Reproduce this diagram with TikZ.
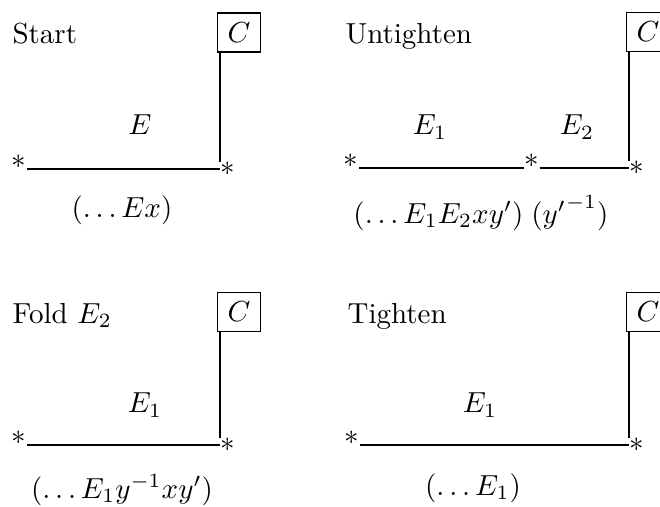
\documentclass[tikz,border=0pt]{standalone}
\usepackage{amsmath}
\usetikzlibrary{calc}

\begin{document}
\begin{tikzpicture}[x=0.345pt, y=-0.345pt,
    cbox/.style={draw, line width=0.5pt, inner sep=0pt,
                 minimum width=15pt, minimum height=13.5pt},
    vtx/.style={inner sep=0pt},
    wire/.style={line width=0.6pt},
    lbl/.style={inner sep=0pt},
    title/.style={anchor=base west, inner sep=0pt}
  ]
    \clip (0,0) rectangle (660,506);

    \node[title] (tStart) at (12, 43) {Start};
    \node[cbox] (c1) at (239, 32.5) {$C$};
    \node[vtx, anchor=south east] (a1) at (27, 169) {$\ast$};
    \node[vtx, anchor=west] (b1) at (220, 169) {$\ast$};
    \draw[wire] (a1.south east) -- (b1.west);
    \draw[wire] (b1.north west) -- (b1.north west |- c1.south);
    \node[lbl] (e1) at (140, 125) {$E$};
    \node[lbl] (w1) at (122, 210) {$(\ldots Ex)$};

    \node[title] (tUntighten) at (345, 43) {Untighten};
    \node[cbox] (c2) at (648, 32) {$C$};
    \node[vtx, anchor=south east] (a2) at (359, 168) {$\ast$};
    \node[vtx, anchor=south] (m2) at (532, 168) {$\ast$};
    \node[vtx, anchor=west] (b2) at (629, 168) {$\ast$};
    \draw[wire] (a2.south east) -- (m2.south west);
    \draw[wire] (m2.south east) -- (b2.west);
    \draw[wire] (b2.north west) -- (b2.north west |- c2.south);
    \node[lbl] (e2a) at (430, 127) {$E_1$};
    \node[lbl] (e2b) at (577, 127) {$E_2$};
    \node[lbl] (w2) at (481, 213) {$(\ldots E_1E_2xy')\;({y'}^{-1})$};

    \node[title] (tFold) at (12, 323) {Fold $E_2$};
    \node[cbox] (c3) at (239, 312) {$C$};
    \node[vtx, anchor=south east] (a3) at (27, 445) {$\ast$};
    \node[vtx, anchor=west] (b3) at (220, 445) {$\ast$};
    \draw[wire] (a3.south east) -- (b3.west);
    \draw[wire] (b3.north west) -- (b3.north west |- c3.south);
    \node[lbl] (e3) at (145, 405) {$E_1$};
    \node[lbl] (w3) at (122, 490) {$(\ldots E_1y^{-1}xy')$};

    \node[title] (tTighten) at (347, 323) {Tighten};
    \node[cbox] (c4) at (648, 312) {$C$};
    \node[vtx, anchor=south east] (a4) at (360, 445) {$\ast$};
    \node[vtx, anchor=west] (b4) at (629, 445) {$\ast$};
    \draw[wire] (a4.south east) -- (b4.west);
    \draw[wire] (b4.north west) -- (b4.north west |- c4.south);
    \node[lbl] (e4) at (480, 405) {$E_1$};
    \node[lbl] (w4) at (473, 488) {$(\ldots E_1)$};
  \end{tikzpicture}
\end{document}
